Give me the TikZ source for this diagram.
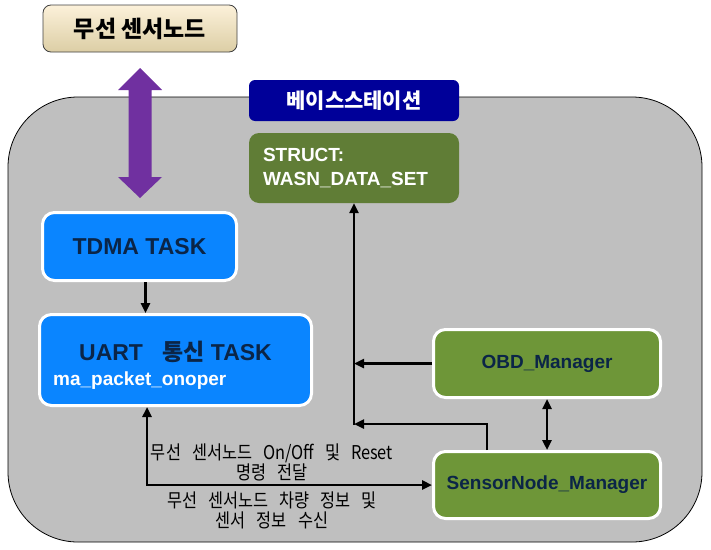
\documentclass[tikz,border=0pt]{standalone}
\usepackage{fontspec}
\setmainfont{Liberation Sans}
\newfontfamily\kr{Noto Sans CJK KR}
\newfontfamily\krn{Noto Sans CJK KR}[FakeStretch=0.86,WordSpace=3]
\usetikzlibrary{positioning,arrows.meta}

\definecolor{framegray}{HTML}{BFBFBF}
\definecolor{bsblue}{HTML}{000099}
\definecolor{structgreen}{HTML}{607D36}
\definecolor{mgrgreen}{HTML}{6E9638}
\definecolor{taskblue}{HTML}{0A85FF}
\definecolor{navytext}{HTML}{0B2547}
\definecolor{wpurple}{HTML}{7030A0}
\definecolor{beigetop}{HTML}{FCF1DA}
\definecolor{beigebot}{HTML}{DCCEA5}

\tikzset{
  taskbox/.style={rectangle,rounded corners=12pt,fill=taskblue,draw=white,line width=3pt,text=navytext},
  mgrbox/.style={rectangle,rounded corners=12pt,fill=mgrgreen,draw=white,line width=3pt,text=navytext,font=\bfseries\fontsize{19}{22}\selectfont},
  link/.style={line width=2.4pt,->},
}

\begin{document}
\begin{tikzpicture}[x=1pt,y=-1pt,>={Triangle[length=10pt,width=9pt]}]
      \useasboundingbox (0,0) rectangle (711,549);

      %base station frame
      \node[rectangle,draw=black,line width=.8pt,fill=framegray,rounded corners=70pt,minimum width=694pt,minimum height=445pt] (bs) at (355,319.5) {};
      \node[rectangle,rounded corners=6pt,fill=bsblue,text=white,minimum width=210pt,minimum height=41pt] (bslabel) at (354,100.5) {\kr\bfseries\fontsize{21}{24}\selectfont 베이스스테이션};
      \node[rectangle,rounded corners=10pt,fill=structgreen,text=white,minimum width=210pt,minimum height=70pt,text width=182pt,inner xsep=14pt,align=left,font=\bfseries\fontsize{19}{24}\selectfont] (wasn) at (354,168) {STRUCT:\\WASN\_DATA\_SET};

      %sensor node and radio link
      \node[rectangle,rounded corners=8pt,top color=beigetop,bottom color=beigebot,draw=black!75,line width=.8pt,minimum width=194pt,minimum height=47pt] (sn) at (140,28.5) {\kr\bfseries\fontsize{23}{26}\selectfont 무선 센서노드};
      \fill[wpurple] (140,68) -- (162,90) -- (151.5,90) -- (151.5,177) -- (162,177) -- (140,198) -- (118,177) -- (128.5,177) -- (128.5,90) -- (118,90) -- cycle;

      %tasks
      \node[taskbox,minimum width=194pt,minimum height=68pt,font=\bfseries\fontsize{23}{26}\selectfont] (tdma) at (139.5,246.5) {TDMA TASK};
      \node[taskbox,minimum width=272pt,minimum height=91pt] (uart) at (175.5,360) {};
      \node[text=navytext,font=\bfseries\fontsize{23}{26}\selectfont] (uartname) at (175.5,352) {UART\ \ \ {\kr 통신} TASK};
      \node[text=white,anchor=west,inner sep=0pt,font=\bfseries\fontsize{19}{22}\selectfont] (uartfn) at (53,381) {ma\_packet\_onoper};

      %managers
      \node[mgrbox,minimum width=227pt,minimum height=68pt] (obd) at (547,363.5) {OBD\_Manager};
      \node[mgrbox,minimum width=227pt,minimum height=67pt] (sensor) at (547,485) {SensorNode\_Manager};
      \coordinate (bus) at (354,424);

      %connections
      \draw[link] ([xshift=6pt]tdma.south) -- ([xshift=6pt]tdma.south |- uart.north);
      \draw[link,<->] ([xshift=-28.5pt]uart.south) |- (sensor.west);
      \draw[link] ([xshift=-60pt]sensor.north) |- (bus);
      \draw[link] (obd.west) -- (obd.west -| bus);
      \draw[link] ([yshift=-1.2pt]bus) -- (wasn.south);
      \draw[link,<->] (obd.south) -- (sensor.north);

      %link labels
      \node[align=center,font=\krn\fontsize{19}{20}\selectfont] (cmd) at (272,462) {무선 센서노드 On/Off 및 Reset\\명령 전달};
      \node[align=center,font=\krn\fontsize{19}{20}\selectfont] (rcv) at (272,510) {무선 센서노드 차량 정보 및\\센서 정보 수신};

\end{tikzpicture}
\end{document}
